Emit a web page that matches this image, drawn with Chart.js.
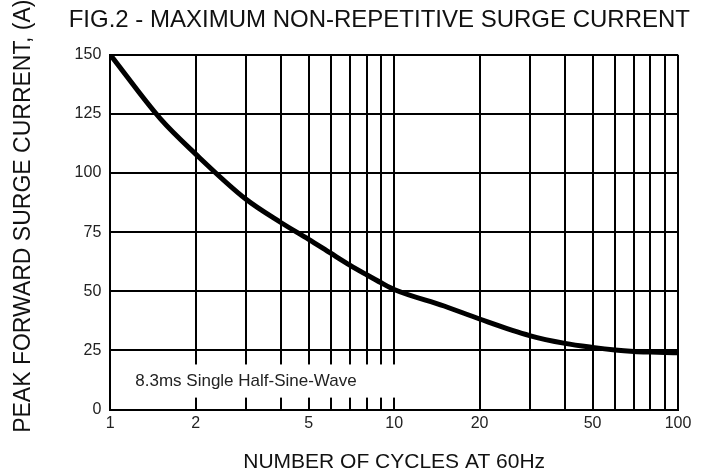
<!DOCTYPE html>
<html>
<head>
<meta charset="utf-8">
<script src="https://cdn.jsdelivr.net/npm/chart.js@4"></script>
<style>
  html, body { margin: 0; padding: 0; background: #fff; }
  #wrap { width: 703px; height: 475px; }
</style>
</head>
<body>
<div id="wrap"><canvas id="surgeChart"></canvas></div>
<script>
// values
const cycles = [1, 1.5, 2, 3, 4, 5, 6, 7, 8, 9, 10, 15, 20, 30, 40, 50, 60, 70, 80, 90, 100];
const surgeAmps = [150, 123, 108, 89, 79, 72, 66, 61, 57, 53.6, 50.8, 43.8, 38.3, 31.3, 28, 26.3, 25.2, 24.6, 24.3, 24.1, 24];
const gridCycles = [1, 2, 3, 4, 5, 6, 7, 8, 9, 10, 20, 30, 40, 50, 60, 70, 80, 90, 100];
const xLabels = [1, 2, 5, 10, 20, 50, 100];
const yTicks = [0, 25, 50, 75, 100, 125, 150];
const noteText = "8.3ms Single Half-Sine-Wave";

const FONT = "'Liberation Sans', Arial, sans-serif";

// white box with the waveform note, sits on top of the grid
const notePlugin = {
  id: 'note',
  beforeDatasetsDraw(chart) {
    const {ctx, chartArea, scales} = chart;
    const x = scales.x, y = scales.y;
    const boxLeft = chartArea.left + 2;
    const boxRight = x.getPixelForValue(10) + 6;
    const top = y.getPixelForValue(25) + 14;
    const bottom = chartArea.bottom - 12;
    ctx.save();
    ctx.fillStyle = '#fff';
    ctx.fillRect(boxLeft, top, boxRight - boxLeft, bottom - top);
    ctx.fillStyle = '#222';
    ctx.font = "17px " + FONT;
    ctx.textBaseline = 'middle';
    ctx.fillText(noteText, chartArea.left + 25, (top + bottom) / 2);
    ctx.restore();
  }
};

new Chart('surgeChart', {
  type: 'line',
  data: {
    datasets: [{
      data: cycles.map((c, i) => ({x: c, y: surgeAmps[i]})),
      borderColor: '#000',
      borderWidth: 5,
      pointRadius: 0,
      cubicInterpolationMode: 'monotone'
    }]
  },
  options: {
    responsive: true,
    maintainAspectRatio: false,
    animation: false,
    layout: { padding: { left: 10, right: 13, top: 0, bottom: 0 } },
    plugins: {
      legend: { display: false },
      tooltip: { enabled: false },
      title: {
        display: true,
        text: 'FIG.2 - MAXIMUM NON-REPETITIVE SURGE CURRENT',
        color: '#111',
        font: { family: FONT, size: 24, weight: 'normal' },
        padding: { top: 6, bottom: 20 },
        align: 'end'
      }
    },
    scales: {
      x: {
        type: 'logarithmic',
        min: 1, max: 100,
        afterBuildTicks: s => { s.ticks = gridCycles.map(v => ({value: v})); },
        grid: { color: '#000', lineWidth: 2, drawTicks: false },
        border: { color: '#000', width: 2 },
        ticks: {
          autoSkip: false,
          maxRotation: 0,
          padding: 4,
          color: '#222',
          font: { family: FONT, size: 16 },
          callback: v => xLabels.includes(v) ? String(v) : ''
        },
        title: {
          display: true,
          text: 'NUMBER OF CYCLES AT 60Hz',
          color: '#111',
          font: { family: FONT, size: 21 },
          padding: { top: 13, bottom: 0 }
        }
      },
      y: {
        min: 0, max: 150,
        grid: { color: '#000', lineWidth: 2, drawTicks: false },
        border: { color: '#000', width: 2 },
        afterBuildTicks: s => { s.ticks = yTicks.map(v => ({value: v})); },
        ticks: {
          padding: 9,
          color: '#222',
          font: { family: FONT, size: 16 }
        },
        title: {
          display: true,
          // leading spaces push the centred title a little toward the top, as in the figure
          text: '     PEAK FORWARD SURGE CURRENT, (A)',
          color: '#111',
          font: { family: FONT, size: 23 },
          padding: { top: 0, bottom: 28 }
        }
      },
      // empty strip on the right so the plot stops short of the title's right edge
      gap: {
        position: 'right',
        grid: { display: false },
        border: { display: false },
        ticks: { display: false },
        afterFit: s => { s.width = 12; }
      }
    }
  },
  plugins: [notePlugin]
});
</script>
</body>
</html>
